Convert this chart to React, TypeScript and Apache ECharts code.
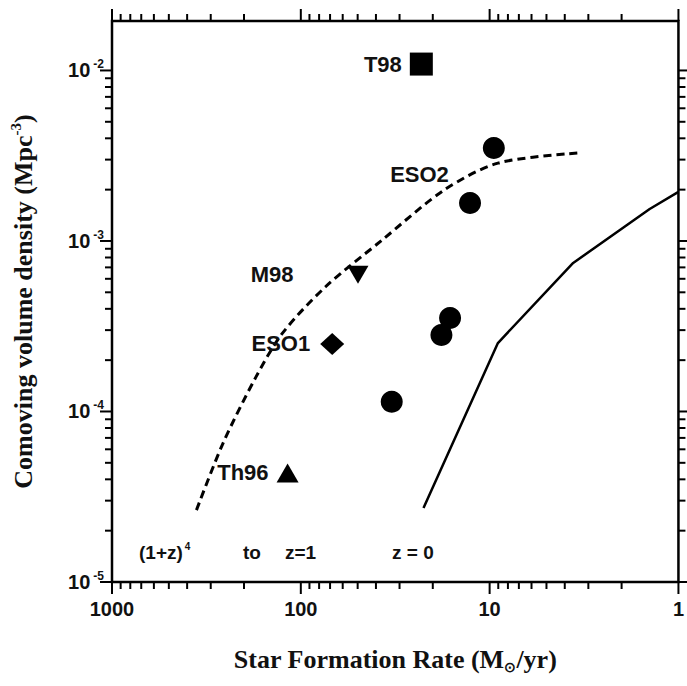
import React, { useEffect, useRef } from "react";
import * as echarts from "echarts";

// ---- data ----
const circleX = [9.5, 12.7, 16.2, 18.0, 33.0];
const circleY = [3.51e-3, 1.67e-3, 3.53e-4, 2.81e-4, 1.14e-4];
const t98Point = [23, 0.0109];
const m98Point = [49.8, 6.33e-4];
const eso1Point = [68.2, 2.49e-4];
const th96Point = [117.5, 4.36e-5];

// (1+z)^4 to z=1 model (dashed)
const dashX = [357, 258, 173, 125, 74.2, 37.2, 17.4, 9.04, 3.39];
const dashY = [2.64e-5, 6.53e-5, 1.59e-4, 2.88e-4, 5.37e-4, 1.01e-3, 1.99e-3, 2.86e-3, 3.28e-3];

// z = 0 (solid)
const solidX = [22.4, 9.04, 3.61, 1.42, 1.0];
const solidY = [2.72e-5, 2.52e-4, 7.43e-4, 1.54e-3, 1.94e-3];

// axes
const X_MIN = 1;
const X_MAX = 1000;
const Y_MIN = 1e-5;
const Y_MAX = 0.0195;
const xDecades = [1, 10, 100, 1000];
const yDecades = [1e-5, 1e-4, 1e-3, 1e-2];
const minorMultipliers = [2, 3, 4, 5, 6, 7, 8, 9];

const SANS = "'Liberation Sans', Arial, sans-serif";
const SERIF = "'Liberation Serif', 'Times New Roman', serif";
const TEXT = "#111";

function buildTicks() {
  const out: number[][] = [];
  xDecades.forEach((d) => {
    out.push([d, Y_MIN, 0]);
    minorMultipliers.forEach((m) => {
      const v = d * m;
      if (v < X_MAX) out.push([v, Y_MIN, 1]);
    });
  });
  yDecades.forEach((d) => {
    out.push([X_MIN, d, 2]);
    minorMultipliers.forEach((m) => {
      const v = d * m;
      if (v < Y_MAX) out.push([X_MIN, v, 3]);
    });
  });
  return out;
}

const labelStyle = {
  show: true,
  fontFamily: SANS,
  fontWeight: "bold" as const,
  fontSize: 22,
  color: TEXT,
  opacity: 1,
};

const markStyle = { color: "#000", opacity: 1 };

export default function App() {
  const ref = useRef<HTMLDivElement>(null);
  useEffect(() => {
    if (!ref.current) return;
    const chart = echarts.init(ref.current, undefined, { renderer: "svg" });
    const tickStyle = { stroke: "#000", lineWidth: 2 };
    const annot = { fontFamily: SANS, fontWeight: "bold", fontSize: 19, fill: TEXT, verticalAlign: "middle" };
    const option: any = {
      animation: false,
      backgroundColor: "#fff",
      grid: {
        left: 108,
        right: 8,
        top: 21,
        bottom: 104,
        show: true,
        borderColor: "#000",
        borderWidth: 2.5,
        backgroundColor: "transparent",
      },
      xAxis: {
        type: "log",
        logBase: 10,
        min: X_MIN,
        max: X_MAX,
        inverse: true,
        axisLine: { show: false },
        axisTick: { show: false },
        minorTick: { show: false },
        splitLine: { show: false },
        axisLabel: {
          margin: 17,
          fontFamily: SANS,
          fontWeight: "bold",
          fontSize: 20,
          color: TEXT,
          showMinLabel: true,
          showMaxLabel: true,
          formatter: (v: number) => String(Math.round(v)),
        },
        name: "{n|Star Formation Rate (M}{sub|⊙}{n|/yr)}",
        nameLocation: "middle",
        nameGap: 62,
        nameTextStyle: {
          rich: {
            n: { fontFamily: SERIF, fontSize: 26, fontWeight: "bold", color: TEXT, lineHeight: 30 },
            sub: { fontFamily: SERIF, fontSize: 14, fontWeight: "bold", color: TEXT, lineHeight: 14, verticalAlign: "bottom" },
          },
        },
      },
      yAxis: {
        type: "log",
        logBase: 10,
        min: Y_MIN,
        max: Y_MAX,
        axisLine: { show: false },
        axisTick: { show: false },
        minorTick: { show: false },
        splitLine: { show: false },
        axisLabel: {
          margin: 8,
          fontFamily: SANS,
          fontWeight: "bold",
          fontSize: 20,
          color: TEXT,
          showMaxLabel: false,
          formatter: (v: number) => {
            const e = Math.log10(v);
            const r = Math.round(e);
            if (Math.abs(e - r) > 1e-6) return "";
            return `{b|10}{s|${r}}`;
          },
          rich: {
            b: { fontFamily: SANS, fontWeight: "bold", fontSize: 20, color: TEXT, lineHeight: 24 },
            s: { fontFamily: SANS, fontWeight: "bold", fontSize: 12, color: TEXT, lineHeight: 12, verticalAlign: "top", padding: [0, 0, 0, 3] },
          },
        },
        name: "{n|Comoving volume density (Mpc}{sup|-3}{n|)}",
        nameLocation: "middle",
        nameGap: 74,
        nameTextStyle: {
          rich: {
            n: { fontFamily: SERIF, fontSize: 26, fontWeight: "bold", color: TEXT, lineHeight: 30 },
            sup: { fontFamily: SERIF, fontSize: 15, fontWeight: "bold", color: TEXT, lineHeight: 15, verticalAlign: "top" },
          },
        },
      },
      graphic: [
        {
          type: "text",
          x: 139,
          y: 552,
          style: {
            text: "{n|(1+z)}{s|4}",
            verticalAlign: "middle",
            rich: {
              n: { fontFamily: SANS, fontWeight: "bold", fontSize: 19, fill: TEXT, lineHeight: 22 },
              s: { fontFamily: SANS, fontWeight: "bold", fontSize: 10, fill: TEXT, lineHeight: 10, verticalAlign: "top", padding: [0, 0, 0, 2] },
            },
          },
        },
        { type: "text", x: 243, y: 552, style: { ...annot, text: "to" } },
        { type: "text", x: 285, y: 552, style: { ...annot, text: "z=1" } },
        { type: "text", x: 392, y: 552, style: { ...annot, text: "z = 0" } },
      ],
      series: [
        {
          type: "custom",
          silent: true,
          clip: false,
          z: 1,
          data: buildTicks(),
          encode: { x: 0, y: 1 },
          renderItem: (params: any, api: any) => {
            const kind = api.value(2);
            const major = kind === 0 || kind === 2;
            const len = major ? 12 : 7;
            if (kind < 2) {
              const v = api.value(0);
              const b = api.coord([v, Y_MIN]);
              const t = api.coord([v, Y_MAX]);
              return {
                type: "group",
                children: [
                  { type: "line", shape: { x1: b[0], y1: b[1], x2: b[0], y2: b[1] + len }, style: tickStyle },
                  { type: "line", shape: { x1: t[0], y1: t[1], x2: t[0], y2: t[1] - len }, style: tickStyle },
                ],
              };
            }
            const v = api.value(1);
            const l = api.coord([X_MAX, v]);
            const r = api.coord([X_MIN, v]);
            return {
              type: "group",
              children: [
                { type: "line", shape: { x1: l[0], y1: l[1], x2: l[0] - len, y2: l[1] }, style: tickStyle },
                { type: "line", shape: { x1: r[0], y1: r[1], x2: r[0] + len, y2: r[1] }, style: tickStyle },
              ],
            };
          },
        },
        {
          type: "line",
          data: dashX.map((x, i) => [x, dashY[i]]),
          smooth: 0.3,
          showSymbol: false,
          symbol: "none",
          silent: true,
          lineStyle: { color: "#000", width: 3, type: [8, 5], opacity: 1 },
          z: 2,
        },
        {
          type: "line",
          data: solidX.map((x, i) => [x, solidY[i]]),
          showSymbol: false,
          symbol: "none",
          silent: true,
          lineStyle: { color: "#000", width: 2.5, opacity: 1 },
          z: 2,
        },
        {
          type: "scatter",
          symbol: "circle",
          symbolSize: 22,
          itemStyle: markStyle,
          z: 3,
          data: circleX.map((x, i) =>
            i === 0
              ? {
                  value: [x, circleY[i]],
                  label: { ...labelStyle, formatter: "ESO2", position: "left", distance: 34, offset: [0, 27] },
                }
              : { value: [x, circleY[i]] }
          ),
        },
        {
          type: "scatter",
          symbol: "rect",
          symbolSize: 23,
          itemStyle: markStyle,
          z: 3,
          label: { ...labelStyle, formatter: "T98", position: "left", distance: 8 },
          data: [t98Point],
        },
        {
          type: "scatter",
          symbol: "triangle",
          symbolRotate: 180,
          symbolSize: [21, 18],
          itemStyle: markStyle,
          z: 3,
          label: { ...labelStyle, formatter: "M98", position: "left", distance: 54 },
          data: [m98Point],
        },
        {
          type: "scatter",
          symbol: "diamond",
          symbolSize: [24, 22],
          itemStyle: markStyle,
          z: 3,
          label: { ...labelStyle, formatter: "ESO1", position: "left", distance: 10 },
          data: [eso1Point],
        },
        {
          type: "scatter",
          symbol: "triangle",
          symbolSize: [22, 19],
          itemStyle: markStyle,
          z: 3,
          label: { ...labelStyle, formatter: "Th96", position: "left", distance: 8 },
          data: [th96Point],
        },
      ],
    };
    chart.setOption(option);
    return () => chart.dispose();
  }, []);
  return (
    <div
      ref={ref}
      style={{ position: "absolute", left: 0, top: 0, width: 687, height: 686, background: "#fff" }}
    />
  );
}
